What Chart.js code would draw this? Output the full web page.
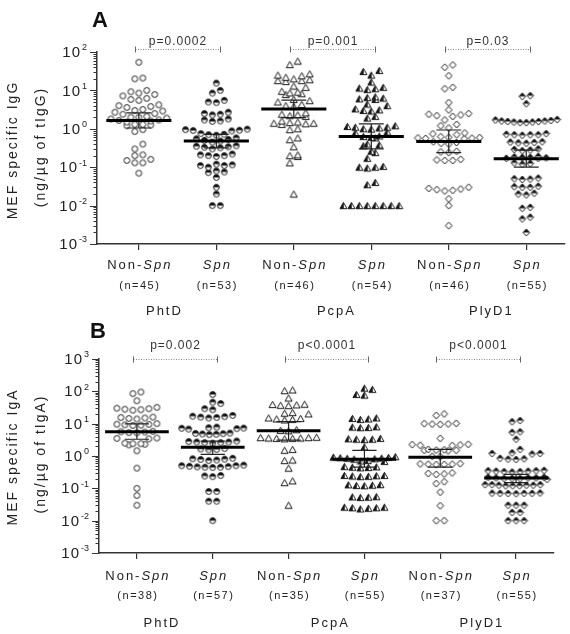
<!DOCTYPE html>
<html>
<head>
<meta charset="utf-8">
<script src="https://cdn.jsdelivr.net/npm/chart.js@4.4.1/dist/chart.umd.min.js"></script>
<style>
body { margin: 0; background: #fff; }
#wrap { position: relative; width: 570px; height: 634px; }
canvas { position: absolute; left: 0; }
</style>
</head>
<body>
<div id="wrap">
  <canvas id="chartA" width="570" height="320" style="top:0"></canvas>
  <canvas id="chartB" width="570" height="314" style="top:320px"></canvas>
</div>
<script>
// categories
const antigens = ['PhtD', 'PcpA', 'PlyD1'];
const pValuesA = ['p=0.0002', 'p=0.001', 'p=0.03'];
const pValuesB = ['p=0.002', 'p<0.0001', 'p<0.0001'];
const nA = [45, 53, 46, 54, 46, 55];
const nB = [38, 57, 35, 55, 37, 55];

// A: IgG (ng/ug of tIgG)
const phtdNonA = [54, 20, 21, 10, 9.2, 8.5, 7.8, 7.2, 6.2, 5.8, 5.5, 4.2, 4.0, 3.8, 3.6, 3.2, 3.0, 2.9, 2.7, 2.5, 2.4, 2.1, 2.0, 2.0, 1.9, 1.8, 1.7, 1.65, 1.6, 1.5, 1.3, 1.3, 1.25, 1.2, 0.95, 0.85, 0.4, 0.3, 0.21, 0.2, 0.16, 0.15, 0.13, 0.13, 0.07];
const phtdSpnA = [15.5, 10, 8.5, 5.5, 5.0, 4.8, 2.7, 2.5, 2.4, 2.3, 1.8, 1.7, 1.6, 1.55, 0.98, 0.95, 0.92, 0.9, 0.88, 0.75, 0.72, 0.7, 0.68, 0.58, 0.55, 0.53, 0.5, 0.48, 0.45, 0.36, 0.35, 0.34, 0.33, 0.32, 0.3, 0.22, 0.21, 0.2, 0.2, 0.19, 0.12, 0.115, 0.11, 0.11, 0.1, 0.08, 0.075, 0.072, 0.054, 0.03, 0.02, 0.01, 0.01];
const pcpaNonA = [58, 47, 27, 25, 24, 22, 20, 19, 18, 18, 17, 13, 12, 9.5, 9, 8.6, 8.2, 7.8, 5.8, 5.4, 5.0, 4.3, 4.0, 3.8, 2.6, 2.4, 2.3, 2.2, 2.1, 1.6, 1.5, 1.45, 1.4, 1.4, 1.35, 1.3, 1.0, 0.95, 0.58, 0.52, 0.34, 0.21, 0.2, 0.19, 0.13, 0.02];
const pcpaSpnA = [33, 31, 25, 16.5, 12, 11.5, 11, 10.5, 6.8, 6.5, 6.3, 6.0, 5.8, 4.4, 4.0, 3.3, 3.1, 3.0, 2.9, 2.1, 1.9, 1.2, 1.15, 1.1, 1.1, 1.05, 1.0, 0.98, 0.82, 0.78, 0.65, 0.63, 0.6, 0.58, 0.4, 0.38, 0.36, 0.26, 0.24, 0.17, 0.105, 0.1, 0.1, 0.095, 0.04, 0.035, 0.01, 0.01, 0.01, 0.01, 0.01, 0.01, 0.01, 0.01];
const plyNonA = [46, 40, 24, 12, 11, 4.8, 3.1, 2.5, 2.4, 2.3, 2.2, 2.1, 1.7, 1.3, 1.2, 1.05, 0.78, 0.74, 0.7, 0.62, 0.6, 0.59, 0.58, 0.57, 0.56, 0.55, 0.46, 0.44, 0.42, 0.4, 0.26, 0.25, 0.24, 0.16, 0.155, 0.15, 0.15, 0.03, 0.028, 0.027, 0.026, 0.025, 0.024, 0.015, 0.01, 0.003];
const plySpnA = [7.3, 7.0, 4.5, 1.75, 1.7, 1.65, 1.6, 1.55, 1.5, 1.45, 1.45, 1.5, 1.55, 1.6, 0.75, 0.72, 0.7, 0.7, 0.68, 0.7, 0.46, 0.45, 0.44, 0.43, 0.42, 0.3, 0.28, 0.29, 0.27, 0.19, 0.185, 0.18, 0.18, 0.175, 0.17, 0.17, 0.13, 0.125, 0.12, 0.052, 0.05, 0.049, 0.048, 0.032, 0.031, 0.03, 0.03, 0.021, 0.02, 0.019, 0.009, 0.0085, 0.005, 0.0045, 0.002];
const gmcA = [1.65, 0.48, 3.3, 0.63, 0.47, 0.165];
const ciLowA = [1.05, 0.32, 1.95, 0.30, 0.24, 0.10];
const ciHighA = [2.6, 0.72, 5.6, 1.35, 0.93, 0.28];

// B: IgA (ng/ug of tIgA)
const phtdNonB = [95, 85, 51, 30, 28, 27, 26, 29, 32, 15, 16, 14, 15.5, 14.5, 9.5, 9.0, 10, 9.2, 8.8, 9.6, 5.8, 5.5, 5.3, 5.6, 5.2, 3.6, 3.4, 3.5, 2.4, 2.3, 2.2, 2.4, 2.5, 1.45, 0.42, 0.1, 0.06, 0.03];
const phtdSpnB = [80, 46, 42, 29, 27, 17, 16, 15.5, 16.5, 15, 18, 7.5, 7.3, 7.0, 7.8, 7.2, 6.8, 5.0, 4.8, 4.6, 4.9, 4.7, 5.1, 2.8, 2.7, 2.6, 2.9, 2.5, 2.7, 2.6, 1.7, 1.6, 1.55, 1.65, 0.85, 0.8, 0.78, 0.82, 0.75, 0.72, 0.5, 0.48, 0.46, 0.45, 0.44, 0.45, 0.47, 0.5, 0.52, 0.25, 0.24, 0.23, 0.08, 0.08, 0.04, 0.04, 0.01];
const pcpaNonB = [110, 105, 62, 40, 38, 36, 39, 37, 22, 20, 21, 14, 13.5, 14.5, 15, 13, 6.5, 6.2, 6.0, 3.8, 3.7, 3.6, 3.5, 3.4, 3.6, 3.7, 3.5, 1.6, 1.5, 0.75, 0.72, 0.42, 0.17, 0.15, 0.03];
const pcpaSpnB = [125, 115, 80, 76, 15, 14, 13.5, 14.5, 8.0, 7.8, 7.5, 7.6, 3.4, 3.3, 3.2, 3.5, 3.3, 1.9, 0.95, 0.92, 0.9, 0.88, 0.86, 0.85, 0.82, 0.8, 0.72, 0.7, 0.68, 0.46, 0.45, 0.44, 0.47, 0.43, 0.25, 0.24, 0.23, 0.245, 0.235, 0.25, 0.13, 0.125, 0.12, 0.128, 0.122, 0.055, 0.054, 0.053, 0.052, 0.026, 0.025, 0.024, 0.025, 0.023, 0.026];
const plyNonB = [20, 18, 10, 9.8, 9.5, 9.7, 10.2, 3.5, 2.3, 2.2, 2.1, 2.25, 2.15, 1.55, 1.5, 1.45, 1.5, 1.6, 1.52, 0.98, 0.95, 0.58, 0.56, 0.55, 0.57, 0.54, 0.56, 0.3, 0.28, 0.27, 0.29, 0.16, 0.14, 0.076, 0.029, 0.01, 0.01];
const plySpnB = [12.5, 11.5, 5.6, 5.4, 3.3, 1.6, 1.25, 1.2, 1.15, 1.2, 0.82, 0.8, 0.78, 0.85, 0.35, 0.34, 0.33, 0.34, 0.36, 0.32, 0.35, 0.33, 0.22, 0.21, 0.2, 0.21, 0.22, 0.2, 0.21, 0.19, 0.2, 0.13, 0.125, 0.12, 0.13, 0.12, 0.125, 0.13, 0.12, 0.125, 0.07, 0.068, 0.072, 0.07, 0.069, 0.071, 0.07, 0.03, 0.03, 0.03, 0.018, 0.018, 0.01, 0.01, 0.01];
const gmcB = [5.6, 1.85, 6.0, 0.8, 0.91, 0.21];
const ciLowB = [3.3, 1.12, 3.1, 0.45, 0.45, 0.15];
const ciHighB = [9.8, 2.9, 11.5, 1.5, 1.6, 0.27];

const FONT = '"Liberation Sans", Arial, sans-serif';

// marker images: open / half-filled circle, triangle, diamond
function makeMarker(shape, half) {
    const c = document.createElement('canvas');
    c.width = 9; c.height = 9;
    const g = c.getContext('2d');
    const path = () => {
        g.beginPath();
        if (shape === 'circle') {
            g.arc(4.5, 4.5, 2.9, 0, Math.PI * 2);
        } else if (shape === 'triangle') {
            g.moveTo(4.5, 1.3); g.lineTo(8, 7.6); g.lineTo(1, 7.6); g.closePath();
        } else {
            g.moveTo(4.5, 1); g.lineTo(7.8, 4.5); g.lineTo(4.5, 8); g.lineTo(1.2, 4.5); g.closePath();
        }
    };
    path(); g.fillStyle = '#fff'; g.fill();
    if (half) {
        g.save(); path(); g.clip();
        g.fillStyle = '#111';
        if (shape === 'triangle') g.fillRect(0, 0, 4.8, 9);
        else g.fillRect(0, 0, 9, 4.5);
        g.restore();
    }
    path(); g.strokeStyle = '#1a1a1a'; g.lineWidth = 1; g.stroke();
    return c;
}
const markers = [
    makeMarker('circle', false), makeMarker('circle', true),
    makeMarker('triangle', false), makeMarker('triangle', true),
    makeMarker('diamond', false), makeMarker('diamond', true)
];

// scatter-dot layout: rows of near-equal values spread around the category
function swarm(vals, idx, pxDecade, pxUnit) {
    const sorted = vals.slice().sort((a, b) => a - b);
    const rows = [];
    let cur = null;
    sorted.forEach(v => {
        const py = Math.log10(v) * pxDecade;
        if (!cur || py - cur.start > 6.5) {
            cur = { start: py, items: [] };
            rows.push(cur);
        }
        cur.items.push(v);
    });
    const pts = [];
    rows.forEach(r => {
        const n = r.items.length;
        const gap = n > 1 ? Math.min(8, 62 / (n - 1)) : 8;
        const pos = [...Array(n).keys()].map(j => j - (n - 1) / 2)
            .sort((a, b) => Math.abs(a) - Math.abs(b) || a - b);
        r.items.forEach((v, k) => {
            pts.push({ x: idx + pos[k] * gap / pxUnit, y: v });
        });
    });
    return pts;
}

function spacedText(ctx, text, x, y, spacing) {
    ctx.letterSpacing = spacing + 'px';
    ctx.fillText(text, x, y);
    ctx.letterSpacing = '0px';
}

function buildPanel(id, p) {
    const canvas = document.getElementById(id);
    const H = canvas.height;
    const pxUnit = (p.right - p.left) / (p.xMax - p.xMin);
    const pxDecade = (p.bottom - p.top) / (p.yMaxExp + 3);

    const datasets = p.groups.map((vals, i) => ({
        data: swarm(vals, i, pxDecade, pxUnit),
        pointStyle: markers[i],
        pointRadius: 4,
        pointHoverRadius: 4
    }));

    const overlay = {
        id: 'overlay',
        afterDraw(chart) {
            const ctx = chart.ctx;
            const xs = chart.scales.x, ys = chart.scales.y;
            const area = chart.chartArea;
            ctx.save();

            // y ticks with minor log ticks
            ctx.strokeStyle = '#333';
            ctx.lineWidth = 1;
            for (let k = -3; k <= p.yMaxExp; k++) {
                for (let m = 1; m <= 9; m++) {
                    if (k === p.yMaxExp && m > 1) break;
                    const y = Math.round(ys.getPixelForValue(m * Math.pow(10, k))) + 0.5;
                    const len = m === 1 ? 7 : 3.5;
                    ctx.beginPath();
                    ctx.moveTo(area.left - len, y);
                    ctx.lineTo(area.left, y);
                    ctx.stroke();
                }
                // label 10^k
                const y = ys.getPixelForValue(Math.pow(10, k));
                ctx.fillStyle = '#222';
                ctx.textBaseline = 'middle';
                ctx.textAlign = 'left';
                ctx.font = '15px ' + FONT;
                ctx.letterSpacing = '1px';
                const w1 = ctx.measureText('10').width;
                ctx.font = '9px ' + FONT;
                ctx.letterSpacing = '0px';
                const exp = String(k);
                const w2 = ctx.measureText(exp).width;
                const x0 = area.left - 11 - w2 - w1;
                ctx.font = '15px ' + FONT;
                spacedText(ctx, '10', x0, y + 1, 1);
                ctx.font = '9px ' + FONT;
                ctx.fillText(exp, x0 + w1 + 1, y - 4);
            }

            // geometric mean with 95% CI
            for (let i = 0; i < 6; i++) {
                const x = xs.getPixelForValue(i);
                const yl = ys.getPixelForValue(p.lo[i]);
                const yh = ys.getPixelForValue(p.hi[i]);
                const cap = 0.16 * pxUnit;
                ctx.strokeStyle = '#222';
                ctx.lineWidth = 1.2;
                ctx.beginPath();
                ctx.moveTo(x, yl); ctx.lineTo(x, yh);
                ctx.moveTo(x - cap, yl); ctx.lineTo(x + cap, yl);
                ctx.moveTo(x - cap, yh); ctx.lineTo(x + cap, yh);
                ctx.stroke();
                const yg = ys.getPixelForValue(p.gm[i]);
                ctx.strokeStyle = '#000';
                ctx.lineWidth = 3;
                ctx.beginPath();
                ctx.moveTo(xs.getPixelForValue(i - 0.42), yg);
                ctx.lineTo(xs.getPixelForValue(i + 0.42), yg);
                ctx.stroke();
            }

            // p-value brackets
            for (let j = 0; j < 3; j++) {
                const x0 = Math.round(xs.getPixelForValue(2 * j - 0.05)) + 0.5;
                const x1 = Math.round(xs.getPixelForValue(2 * j + 1 + 0.05)) + 0.5;
                const yb = p.bracketY + 0.5;
                ctx.strokeStyle = '#888';
                ctx.lineWidth = 1;
                ctx.setLineDash([1, 1.5]);
                ctx.beginPath(); ctx.moveTo(x0, yb); ctx.lineTo(x1, yb); ctx.stroke();
                ctx.setLineDash([]);
                ctx.strokeStyle = '#666';
                ctx.beginPath();
                ctx.moveTo(x0, yb - 3); ctx.lineTo(x0, yb + 3);
                ctx.moveTo(x1, yb - 3); ctx.lineTo(x1, yb + 3);
                ctx.stroke();
                ctx.fillStyle = '#333';
                ctx.font = '12px ' + FONT;
                ctx.textAlign = 'center';
                ctx.textBaseline = 'middle';
                spacedText(ctx, p.pvals[j], (x0 + x1) / 2, p.pTextY, 1);
            }

            // category labels
            ctx.fillStyle = '#222';
            ctx.textBaseline = 'middle';
            ctx.textAlign = 'left';
            for (let i = 0; i < 6; i++) {
                const x = xs.getPixelForValue(i);
                const non = i % 2 === 0;
                ctx.letterSpacing = '2px';
                ctx.font = '13px ' + FONT;
                const wa = non ? ctx.measureText('Non-').width : 0;
                ctx.font = 'italic 13px ' + FONT;
                const wb = ctx.measureText('Spn').width;
                let sx = x - (wa + wb) / 2 + 1;
                if (non) {
                    ctx.font = '13px ' + FONT;
                    ctx.fillText('Non-', sx, p.labelY[0]);
                    sx += wa;
                }
                ctx.font = 'italic 13px ' + FONT;
                ctx.fillText('Spn', sx, p.labelY[0]);
                ctx.letterSpacing = '0px';
                ctx.textAlign = 'center';
                ctx.font = '11px ' + FONT;
                spacedText(ctx, '(n=' + p.n[i] + ')', x + 1, p.labelY[1], 1.5);
                ctx.textAlign = 'left';
            }
            ctx.textAlign = 'center';
            ctx.font = '13px ' + FONT;
            const gx = [0.33, 2.55, 4.55];
            antigens.forEach((a, j) => {
                spacedText(ctx, a, xs.getPixelForValue(gx[j]), p.labelY[2], 2);
            });

            // axis titles
            ctx.font = '14px ' + FONT;
            ctx.save();
            ctx.translate(13, p.titleY);
            ctx.rotate(-Math.PI / 2);
            spacedText(ctx, p.title1, 0, 0, 2);
            ctx.restore();
            ctx.save();
            ctx.translate(41, p.titleY - 3);
            ctx.rotate(-Math.PI / 2);
            spacedText(ctx, p.title2, 0, 0, 2);
            ctx.restore();

            // panel letter
            ctx.fillStyle = '#111';
            ctx.font = 'bold 22px ' + FONT;
            ctx.textAlign = 'left';
            ctx.fillText(p.letter, p.letterX, p.letterY);
            ctx.restore();
        }
    };

    return new Chart(canvas, {
        type: 'scatter',
        data: { datasets: datasets },
        options: {
            responsive: false,
            animation: false,
            devicePixelRatio: 1,
            layout: { padding: { top: p.top, right: 570 - p.right, left: 0, bottom: 0 } },
            plugins: { legend: { display: false }, tooltip: { enabled: false } },
            scales: {
                x: {
                    type: 'linear',
                    min: p.xMin,
                    max: p.xMax,
                    afterBuildTicks: s => { s.ticks = [0, 1, 2, 3, 4, 5].map(v => ({ value: v })); },
                    afterFit: s => { s.height = H - p.bottom; },
                    ticks: { display: false },
                    grid: { display: true, drawOnChartArea: false, drawTicks: true, tickLength: 6, color: '#333', lineWidth: 1.2 },
                    border: { display: true, color: '#333', width: 1.5 }
                },
                y: {
                    type: 'logarithmic',
                    min: 0.001,
                    max: Math.pow(10, p.yMaxExp),
                    afterFit: s => { s.width = p.left; },
                    ticks: { display: false },
                    grid: { display: false },
                    border: { display: true, color: '#333', width: 1.5 }
                }
            }
        },
        plugins: [overlay]
    });
}

buildPanel('chartA', {
    groups: [phtdNonA, phtdSpnA, pcpaNonA, pcpaSpnA, plyNonA, plySpnA],
    gm: gmcA, lo: ciLowA, hi: ciHighA, n: nA, pvals: pValuesA,
    top: 52, bottom: 244, left: 97, right: 567, xMin: -0.54, xMax: 5.5, yMaxExp: 2,
    bracketY: 49, pTextY: 42, labelY: [265, 286, 311], titleY: 150,
    title1: 'MEF specific IgG', title2: '(ng/\u00b5g of tIgG)',
    letter: 'A', letterX: 92, letterY: 21
});

buildPanel('chartB', {
    groups: [phtdNonB, phtdSpnB, pcpaNonB, pcpaSpnB, plyNonB, plySpnB],
    gm: gmcB, lo: ciLowB, hi: ciHighB, n: nB, pvals: pValuesB,
    top: 39, bottom: 233, left: 99, right: 554, xMin: -0.5, xMax: 5.5, yMaxExp: 3,
    bracketY: 39, pTextY: 26, labelY: [256, 276, 303], titleY: 137,
    title1: 'MEF specific IgA', title2: '(ng/\u00b5g of tIgA)',
    letter: 'B', letterX: 90, letterY: 12
});
</script>
</body>
</html>
